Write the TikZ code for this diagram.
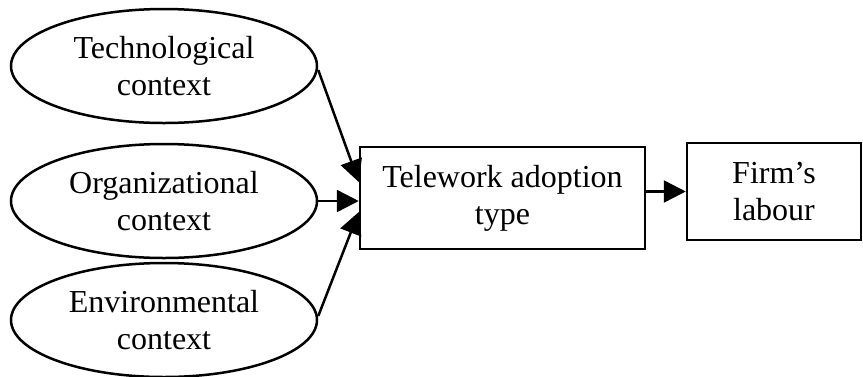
\documentclass[tikz,border=0pt]{standalone}
\usepackage{fontspec}
\setmainfont{Liberation Serif}
\usetikzlibrary{shapes.geometric,arrows.meta}
\begin{document}
\begin{tikzpicture}[x=1pt,y=-1pt,
  ctx/.style={draw,ellipse,line width=2.5pt,minimum width=306pt,minimum height=114pt,
    align=center,font=\fontsize{32}{37}\selectfont},
  blk/.style={draw,rectangle,line width=2.5pt,align=center,font=\fontsize{32}{37}\selectfont},
  link/.style={line width=2.5pt,-{Triangle[length=22pt,width=22pt]}}]
\useasboundingbox (0,0) rectangle (863,376);
\node[ctx] (tech) at (164,66) {Technological\\context};
\node[ctx] (org) at (164,201) {Organizational\\context};
\node[ctx] (env) at (164,320) {Environmental\\context};
\node[blk,minimum width=285pt,minimum height=102pt] (tel) at (502.5,198) {Telework adoption\\type};
\node[blk,minimum width=174pt,minimum height=97pt] (firm) at (774,191.5) {Firm’s\\labour};
\coordinate (techEnd) at ([yshift=16pt]tel.west);
\coordinate (envEnd) at ([yshift=-14pt]tel.west);
\draw[link] (tech.east) ++(0,4) -- (techEnd);
\draw[link] (org.east) -- (org.east -| tel.west);
\draw[link] (env.east) ++(0,-4) -- (envEnd);
\draw[link] (tel.east |- firm.west) -- (firm.west);
\end{tikzpicture}
\end{document}
